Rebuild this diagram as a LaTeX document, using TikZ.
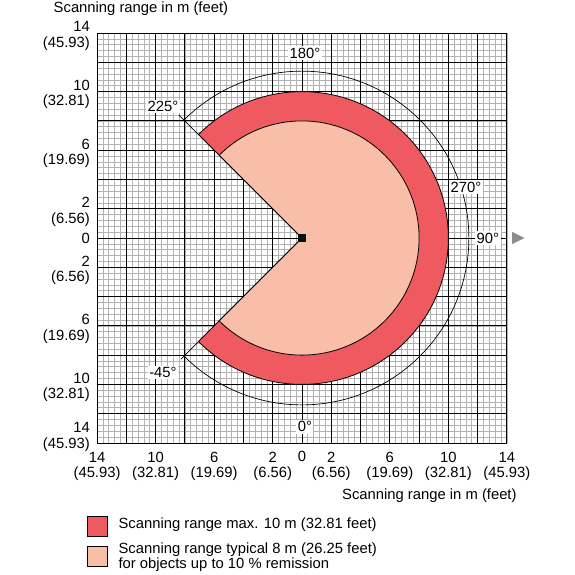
\documentclass[tikz,border=0pt]{standalone}
\usepackage{fontspec}
\setmainfont{Liberation Sans}
\usetikzlibrary{calc}

\definecolor{rangemax}{RGB}{238,90,96}
\definecolor{rangetyp}{RGB}{249,190,168}

\begin{document}
\begin{tikzpicture}[x=14.64pt, y=14.64pt,
        font=\fontsize{14.8}{15.5}\selectfont,
        minor_grid/.style={draw=black!30, line width=0.7pt},
        major_grid/.style={draw=black, line width=0.9pt},
        sector_max/.style={fill=rangemax, draw=black, line width=0.8pt},
        sector_typ/.style={fill=rangetyp, draw=black, line width=0.8pt},
        deg_style/.style={fill=white, inner sep=1.5pt},
        ylabel_style/.style={anchor=east, align=right},
        xlabel_style/.style={align=center},
        legend_box/.style={draw=black, line width=0.8pt, minimum size=20pt, inner sep=0pt}]

        \useasboundingbox (-20.63,-23.02) rectangle (18.65,16.26);

        % grid
        \draw [minor_grid] (-14,-14) grid[step=0.4] (14,14);
        \draw [major_grid] (-14,-14) grid[step=2] (14,14);

        % scanning fields
        \filldraw [sector_max] (0,0) -- (135:10) arc[start angle=135, end angle=-135, radius=10] -- cycle;
        \filldraw [sector_typ] (0,0) -- (135:8) arc[start angle=135, end angle=-135, radius=8] -- cycle;

        % angle arc
        \draw [line width=0.7pt] (135:11.4) arc[start angle=135, end angle=-135, radius=11.4];
        \draw [line width=0.7pt] (135:10) -- (135:11.9);
        \draw [line width=0.7pt] (-135:10) -- (-135:11.7);

        \node [fill=black!85!teal, minimum size=8pt, inner sep=0pt](scanner) at (0,0) {};

        \node [deg_style](d180) at (0.2,12.64) {180°};

        \node [deg_style](d270) at (11.2,3.48) {270°};

        \node [deg_style](d90) at (12.7,0) {90°};

        \node [deg_style](d0) at (0.2,-12.9) {0°};

        \node [deg_style](d225) at (-9.5,9.0) {225°};

        \node [deg_style](dm45) at (-9.5,-9.2) {-45°};

        \fill [black!45] (14.35,0.42) -- (15.2,0) -- (14.35,-0.42) -- cycle;

        % y axis
        \node [anchor=west](ytitle) at (-17.2,15.64) {Scanning range in m (feet)};

        \node [ylabel_style](y14) at (-14.25,13.8) {14\\(45.93)};

        \node [ylabel_style](y10) at (-14.25,9.8) {10\\(32.81)};

        \node [ylabel_style](y6) at (-14.25,5.8) {6\\(19.69)};

        \node [ylabel_style](y2) at (-14.25,1.8) {2\\(6.56)};

        \node [ylabel_style](y0) at (-14.25,0) {0};

        \node [ylabel_style](ym2) at (-14.25,-2.2) {2\\(6.56)};

        \node [ylabel_style](ym6) at (-14.25,-6.2) {6\\(19.69)};

        \node [ylabel_style](ym10) at (-14.25,-10.2) {10\\(32.81)};

        \node [ylabel_style](ym14) at (-14.25,-13.6) {14\\(45.93)};

        % x axis
        \node [xlabel_style](xm14) at (-14,-15.6) {14\\(45.93)};

        \node [xlabel_style](xm10) at (-10,-15.6) {10\\(32.81)};

        \node [xlabel_style](xm6) at (-6,-15.6) {6\\(19.69)};

        \node [xlabel_style](xm2) at (-2,-15.6) {2\\(6.56)};

        \node [xlabel_style](x0) at (0,-14.95) {0};

        \node [xlabel_style](x2) at (2,-15.6) {2\\(6.56)};

        \node [xlabel_style](x6) at (6,-15.6) {6\\(19.69)};

        \node [xlabel_style](x10) at (10,-15.6) {10\\(32.81)};

        \node [xlabel_style](x14) at (14,-15.6) {14\\(45.93)};

        \node [anchor=east](xtitle) at (14.9,-17.62) {Scanning range in m (feet)};

        % legend
        \node [legend_box, fill=rangemax](key_max) at (-14,-19.67) {};

        \node [anchor=west](txt_max) at (-12.77,-19.6) {Scanning range max. 10 m (32.81 feet)};

        \node [legend_box, fill=rangetyp](key_typ) at (-14,-21.78) {};

        \node [anchor=west, align=left](txt_typ) at (-12.77,-21.79) {Scanning range typical 8 m (26.25 feet)\\for objects up to 10 \% remission};

        \end{tikzpicture}
\end{document}
